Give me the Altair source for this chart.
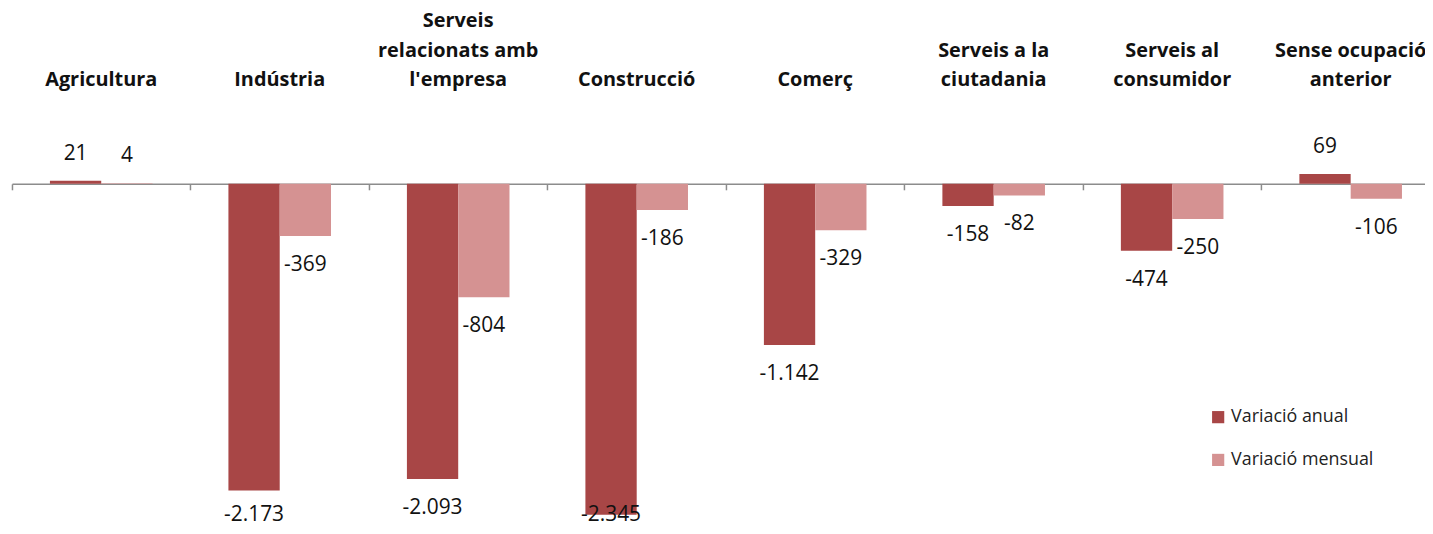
import altair as alt
import pandas as pd

categories = ["Agricultura", "Indústria", "Serveis relacionats amb l'empresa", "Construcció",
              "Comerç", "Serveis a la ciutadania", "Serveis al consumidor", "Sense ocupació anterior"]
cat_lines = [["Agricultura"], ["Indústria"], ["Serveis", "relacionats amb", "l'empresa"],
             ["Construcció"], ["Comerç"], ["Serveis a la", "ciutadania"],
             ["Serveis al", "consumidor"], ["Sense ocupació", "anterior"]]
series = ["Variació anual", "Variació mensual"]
anual = [21, -2173, -2093, -2345, -1142, -158, -474, 69]
mensual = [4, -369, -804, -186, -329, -82, -250, -106]
colors = ["#A84646", "#D59292"]

rows = []
for c, a, m in zip(categories, anual, mensual):
    for s, v in zip(series, (a, m)):
        rows.append({"cat": c, "serie": s, "value": v,
                     "label": f"{v:,}".replace(",", ".")})
df = pd.DataFrame(rows)

line_rows = []
for c, lines in zip(categories, cat_lines):
    n = len(lines)
    for i, t in enumerate(lines):
        line_rows.append({"cat": c, "txt": t, "k": n - 1 - i})
df_cat = pd.DataFrame(line_rows)

FONT = "Open Sans"
H = 518
W = 1421
y_scale = alt.Scale(domain=[-2415, 1236], nice=False, zero=False)
zero_px = 1236 / (1236 + 2415) * H

x_enc = alt.X("cat:N", sort=categories,
              scale=alt.Scale(range=[0, 1436], paddingInner=0, paddingOuter=0),
              axis=alt.Axis(title=None, labels=False, orient="bottom", bandPosition=0,
                            offset=-(H - zero_px), domainColor="#8c8c8c", tickColor="#8c8c8c",
                            tickSize=6, domainWidth=1.5, tickWidth=1.5, grid=False))
xo = alt.XOffset("serie:N", sort=series, scale=alt.Scale(paddingOuter=0.74, paddingInner=0))

bars = alt.Chart(df).mark_bar().encode(
    x=x_enc,
    xOffset=xo,
    y=alt.Y("value:Q", scale=y_scale, axis=None),
    color=alt.Color("serie:N", sort=series,
                    scale=alt.Scale(domain=series, range=colors),
                    legend=alt.Legend(title=None, orient="none", legendX=1204, legendY=401,
                                      symbolType="square", symbolSize=150, symbolStrokeWidth=0,
                                      labelFont=FONT, labelFontSize=18, labelColor="#222222",
                                      rowPadding=25, labelOffset=4)),
)

neg = alt.Chart(df).transform_filter("datum.value < 0").transform_calculate(
    ypos="max(datum.value, -2140)"
).mark_text(dy=29, baseline="middle", font=FONT, fontSize=21, color="#111111").encode(
    x=alt.X("cat:N", sort=categories),
    xOffset=xo,
    y=alt.Y("ypos:Q", scale=y_scale),
    text="label:N",
)

pos = alt.Chart(df).transform_filter("datum.value >= 0").mark_text(
    dy=-27, baseline="middle", font=FONT, fontSize=21, color="#111111").encode(
    x=alt.X("cat:N", sort=categories),
    xOffset=xo,
    y=alt.Y("value:Q", scale=y_scale),
    text="label:N",
)

data_layers = alt.layer(bars, neg, pos)

cats = alt.Chart(df_cat).mark_text(
    baseline="alphabetic", font=FONT, fontSize=20,
    fontWeight="bold", color="#111111").encode(
    x=alt.X("cat:N", sort=categories),
    y=alt.Y("k:Q", scale=alt.Scale(domain=[0, 2], range=[77, 18]), axis=None),
    text="txt:N",
)

chart = alt.layer(data_layers, cats).resolve_scale(y="independent").properties(
    width=W, height=H,
    autosize=alt.AutoSizeParams(type="none"),
    padding={"left": 4, "top": 0, "right": 0, "bottom": 0},
).configure_view(stroke=None)

chart.save("out.html", embed_options={"renderer": "svg", "actions": False})
